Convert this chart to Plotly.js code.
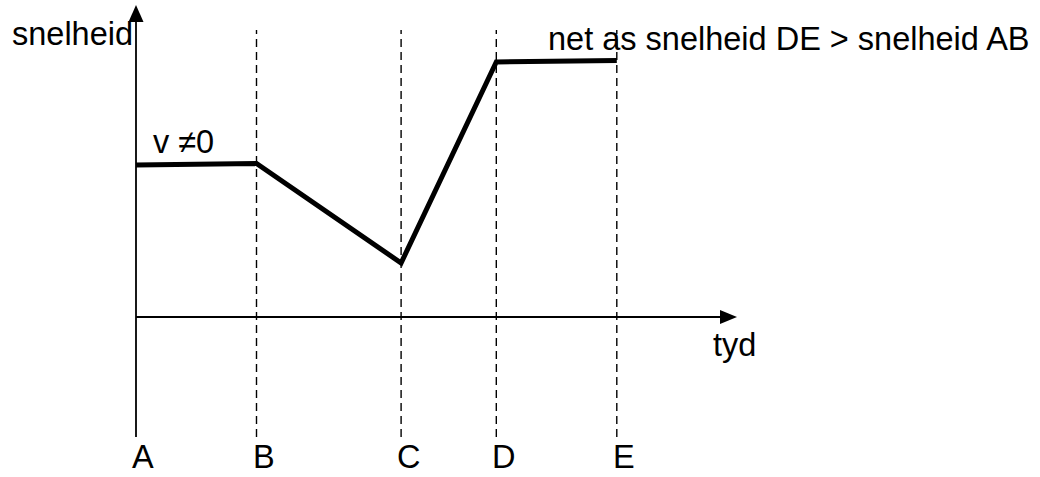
<!DOCTYPE html>
<html>
<head>
<meta charset="utf-8">
<script src="https://cdn.plot.ly/plotly-3.0.1.min.js"></script>
<style>html,body{margin:0;padding:0;background:#fff;}#chart{width:1040px;height:477px;}</style>
</head>
<body>
<div id="chart"></div>
<script>
// Data
const pointLabels = ['A', 'B', 'C', 'D', 'E'];
const times = [0, 1, 2.2, 2.99, 3.99];
const speeds = [3.04, 3.07, 1.08, 5.1, 5.13];
const yAxisTitle = 'snelheid';
const xAxisTitle = 'tyd';
const noteAB = 'v \u22600';
const noteDE = 'net as snelheid DE > snelheid AB';

const W = 1040, H = 477;
const xUnit = 120.5, yUnit = 50;      // pixels per unit
const x0px = 136, y0px = 317;          // origin in pixels
const xRange = [-x0px / xUnit, (W - x0px) / xUnit];
const yRange = [-(H - y0px) / yUnit, y0px / yUnit];
const X = p => (p - x0px) / xUnit;     // pixel -> data helpers for decoration
const Y = p => (y0px - p) / yUnit;

const font = {family: 'Liberation Sans, Arial, sans-serif', size: 32.5, color: '#000'};

const shapes = [];
// vertical axis line + arrowhead
shapes.push({type: 'line', xref: 'x', yref: 'y', x0: 0, x1: 0, y0: Y(437), y1: Y(20), line: {color: '#000', width: 1.8}});
shapes.push({type: 'path', xref: 'x', yref: 'y',
  path: `M ${X(x0px - 7.5)} ${Y(22)} L ${X(x0px + 7.5)} ${Y(22)} L ${X(x0px)} ${Y(5)} Z`,
  fillcolor: '#000', line: {color: '#000', width: 0}});
// horizontal axis line + arrowhead
shapes.push({type: 'line', xref: 'x', yref: 'y', x0: 0, x1: X(722), y0: 0, y1: 0, line: {color: '#000', width: 1.8}});
shapes.push({type: 'path', xref: 'x', yref: 'y',
  path: `M ${X(720)} ${Y(y0px - 7)} L ${X(720)} ${Y(y0px + 7)} L ${X(737)} 0 Z`,
  fillcolor: '#000', line: {color: '#000', width: 0}});
// dashed verticals at B..E
for (let i = 1; i < times.length; i++) {
  shapes.push({type: 'line', xref: 'x', yref: 'y', x0: times[i], x1: times[i], y0: Y(437), y1: Y(30),
    line: {color: '#000', width: 1.4, dash: '8px,5px'}});
}

const annotations = [];
pointLabels.forEach((lab, i) => {
  annotations.push({x: times[i], y: Y(457), xref: 'x', yref: 'y', text: lab, showarrow: false,
    xanchor: 'left', yanchor: 'middle', xshift: -6, font: font});
});
annotations.push({x: X(135), y: Y(34), xref: 'x', yref: 'y', text: yAxisTitle, showarrow: false,
  xanchor: 'right', yanchor: 'middle', font: font});
annotations.push({x: X(711), y: Y(345), xref: 'x', yref: 'y', text: xAxisTitle, showarrow: false,
  xanchor: 'left', yanchor: 'middle', font: font});
annotations.push({x: X(151), y: Y(142), xref: 'x', yref: 'y', text: noteAB, showarrow: false,
  xanchor: 'left', yanchor: 'middle', font: font});
annotations.push({x: X(546), y: Y(39), xref: 'x', yref: 'y', text: noteDE, showarrow: false,
  xanchor: 'left', yanchor: 'middle', font: font});

const trace = {x: times, y: speeds, type: 'scatter', mode: 'lines',
  line: {color: '#000', width: 5}, hoverinfo: 'skip'};

const layout = {
  width: W, height: H,
  margin: {l: 0, r: 0, t: 0, b: 0, pad: 0},
  paper_bgcolor: '#fff', plot_bgcolor: '#fff',
  showlegend: false,
  xaxis: {range: xRange, visible: false, fixedrange: true},
  yaxis: {range: yRange, visible: false, fixedrange: true},
  shapes: shapes,
  annotations: annotations,
  font: font
};

Plotly.newPlot('chart', [trace], layout, {staticPlot: true, displayModeBar: false});
</script>
</body>
</html>
